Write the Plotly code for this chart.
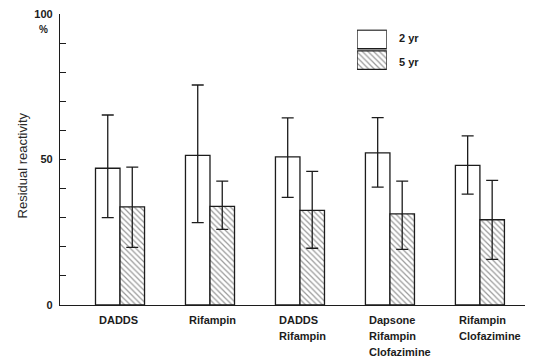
import plotly.graph_objects as go

categories = ["DADDS", "Rifampin", "DADDS<br>Rifampin", "Dapsone<br>Rifampin<br>Clofazimine", "Rifampin<br>Clofazimine"]
series_names = ["2 yr", "5 yr"]
vals_2yr = [47.0, 51.4, 50.9, 52.3, 48.0]
upper_2yr = [65.3, 75.6, 64.3, 64.4, 58.1]
lower_2yr = [30.0, 28.3, 37.0, 40.5, 38.1]
vals_5yr = [33.7, 33.9, 32.5, 31.3, 29.3]
upper_5yr = [47.4, 42.6, 45.9, 42.6, 42.8]
lower_5yr = [19.8, 26.0, 19.5, 19.1, 15.7]
y_tickvals = [0, 10, 20, 30, 40, 50, 60, 70, 80, 90, 100]
y_ticktext = ["0", "", "", "", "", "50", "", "", "", "", "100"]

FONT = "Liberation Sans, Arial, sans-serif"
INK = "#1c1c1c"
xpos = list(range(len(categories)))

hatch = dict(shape="\\", fgcolor="#333333", bgcolor="white", size=4, solidity=0.3)

fig = go.Figure()
fig.add_trace(go.Bar(
    x=xpos, y=vals_2yr, name=series_names[0],
    marker=dict(color="white", line=dict(color=INK, width=1.3)),
    error_y=dict(type="data", symmetric=False,
                 array=[u - v for u, v in zip(upper_2yr, vals_2yr)],
                 arrayminus=[v - l for v, l in zip(vals_2yr, lower_2yr)],
                 color=INK, thickness=1.3, width=6),
    showlegend=False,
))
fig.add_trace(go.Bar(
    x=xpos, y=vals_5yr, name=series_names[1],
    marker=dict(color="white", pattern=hatch, line=dict(color=INK, width=1.3)),
    error_y=dict(type="data", symmetric=False,
                 array=[u - v for u, v in zip(upper_5yr, vals_5yr)],
                 arrayminus=[v - l for v, l in zip(vals_5yr, lower_5yr)],
                 color=INK, thickness=1.3, width=6),
    showlegend=False,
))

# legend swatches on an auxiliary axis pair
fig.add_trace(go.Bar(
    x=[1], y=[1], orientation="h", xaxis="x2", yaxis="y2", width=0.9, offset=-0.45,
    marker=dict(color="white", line=dict(color=INK, width=1.3)), showlegend=False, hoverinfo="skip",
))
fig.add_trace(go.Bar(
    x=[1], y=[0], orientation="h", xaxis="x2", yaxis="y2", width=0.9, offset=-0.45,
    marker=dict(color="white", pattern=hatch, line=dict(color=INK, width=1.3)), showlegend=False, hoverinfo="skip",
))

annotations = []
for i, cat in enumerate(categories):
    for k, line in enumerate(cat.split("<br>")):
        annotations.append(dict(
            x=i, y=0, xref="x", yref="y", text=line, showarrow=False,
            xanchor="left", yanchor="top", xshift=-23, yshift=-7 - 16 * k,
            font=dict(family=FONT, size=11, color=INK, weight="bold"),
        ))
# legend labels
for name, yy in zip(series_names, [0.9175, 0.835]):
    annotations.append(dict(
        x=0.7125, y=yy, xref="paper", yref="paper", text=name, showarrow=False,
        xanchor="left", yanchor="middle",
        font=dict(family=FONT, size=11, color=INK, weight="bold"),
    ))
# percent sign under 100
annotations.append(dict(
    x=-0.035, y=0.947, xref="paper", yref="paper", text="%", showarrow=False,
    xanchor="center", yanchor="middle", font=dict(family=FONT, size=10, color=INK, weight="bold"),
))
# y title
annotations.append(dict(
    x=-0.08, y=0.48, xref="paper", yref="paper", text="Residual reactivity", showarrow=False,
    textangle=-90, xanchor="center", yanchor="middle",
    font=dict(family=FONT, size=13, color="#2a2a2a"),
))

# the page body has an 8px margin, so the figure is sized and padded to compensate
fig.update_layout(
    width=525, height=351,
    margin=dict(l=52, r=0, t=6, b=54),
    paper_bgcolor="white", plot_bgcolor="white",
    barmode="group", bargap=0.455, bargroupgap=0,
    showlegend=False,
    annotations=annotations,
    xaxis=dict(range=[-0.667, 4.59], showline=True, linecolor=INK, linewidth=1.3,
               showticklabels=False, ticks="", showgrid=False, zeroline=False),
    yaxis=dict(range=[0, 100], showline=True, linecolor=INK, linewidth=1.3,
               tickvals=y_tickvals, ticktext=y_ticktext, ticks="inside", ticklen=6,
               tickcolor=INK, tickwidth=1.3, showgrid=False, zeroline=False,
               tickfont=dict(family=FONT, size=11, color=INK, weight="bold"),
               ticklabelstandoff=4, ticklabeloverflow="allow"),
    xaxis2=dict(domain=[0.628, 0.691], range=[0, 1], anchor="y2", visible=False, fixedrange=True),
    yaxis2=dict(domain=[0.806, 0.948], range=[-0.5, 1.5], anchor="x2", visible=False, fixedrange=True),
)

fig.write_html("out.html")
